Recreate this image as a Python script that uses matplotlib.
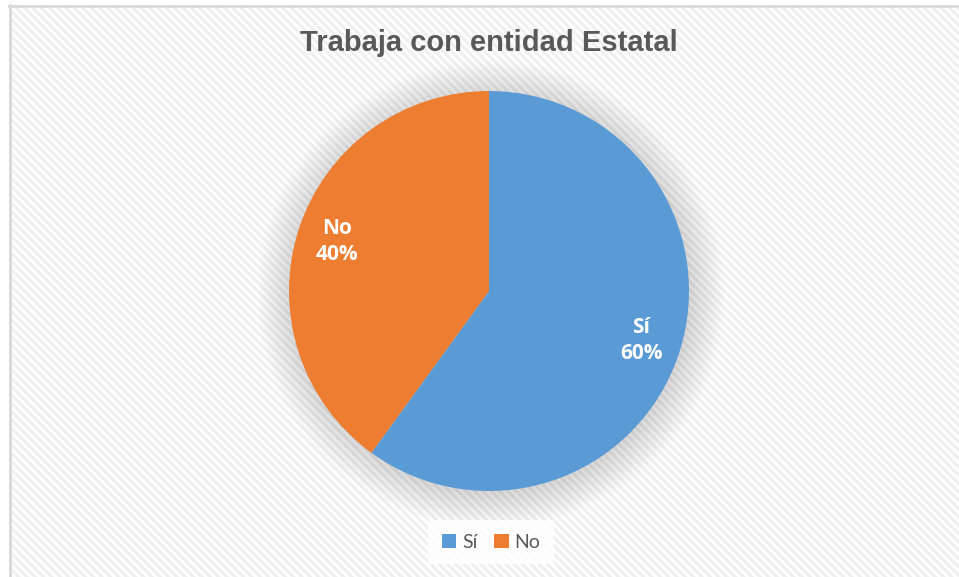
import matplotlib
matplotlib.use("Agg")
import matplotlib.pyplot as plt
from matplotlib.patches import Rectangle, Circle

# datos
categorias = ["Sí", "No"]
valores = [60, 40]
colores = ["#5B9BD5", "#ED7D31"]
titulo = "Trabaja con entidad Estatal"

W, H = 959, 577
plt.rcParams['hatch.linewidth'] = 2.2

fig = plt.figure(figsize=(W / 100, H / 100), dpi=100)
ax = fig.add_axes([0, 0, 1, 1])

# fondo rayado
fondo = Rectangle((9, 0), W - 9, H - 5, facecolor='white', edgecolor='#F0F0F0',
                  linewidth=0, hatch='\\\\\\\\', zorder=0)
ax.add_patch(fondo)
ax.plot([9.5, 9.5], [0, H - 5], color='#D9D9D9', lw=2, zorder=1)
ax.plot([9, W], [H - 5.5, H - 5.5], color='#D9D9D9', lw=2, zorder=1)

cx, cy, r = 489, H - 291, 200

# sombra difusa
for i in range(18):
    sombra = Circle((cx + 2, cy - 3), r + 34 - i * 2, facecolor='#000000',
                    edgecolor='none', alpha=0.009, zorder=2)
    ax.add_patch(sombra)

def etiqueta(pct):
    idx = 0 if abs(pct - valores[0]) < 1 else 1
    return "%s\n%d%%" % (categorias[idx], round(pct))

wedges, textos, autotextos = ax.pie(valores, colors=colores, startangle=90,
                                    counterclock=False, center=(cx, cy), radius=r,
                                    autopct=etiqueta, pctdistance=0.8,
                                    wedgeprops=dict(linewidth=0, zorder=3),
                                    frame=True)
ax.set_xlim(0, W)
ax.set_ylim(0, H)
ax.set_aspect('equal')
ax.axis('off')
for t in autotextos:
    t.set_color('white')
    t.set_fontsize(15)
    t.set_fontweight('bold')
    t.set_family('Open Sans')
    t.set_linespacing(1.35)
    t.set_zorder(5)

ax.text(489, H - 43, titulo, ha='center', va='center', fontsize=21,
        fontweight='bold', color='#595959', family='Liberation Sans', zorder=5)

leg = fig.legend(wedges, categorias, loc='center', bbox_to_anchor=(491 / W, 1 - 542 / H),
                 ncol=2, frameon=True, fancybox=False, edgecolor='none', facecolor='white',
                 framealpha=0.85, handlelength=0.75, handleheight=0.75, handletextpad=0.3,
                 columnspacing=0.85, borderpad=0.7, prop={'family': 'Lato', 'size': 14})
for t in leg.get_texts():
    t.set_color('#595959')

fig.savefig("out.png", dpi=100)
